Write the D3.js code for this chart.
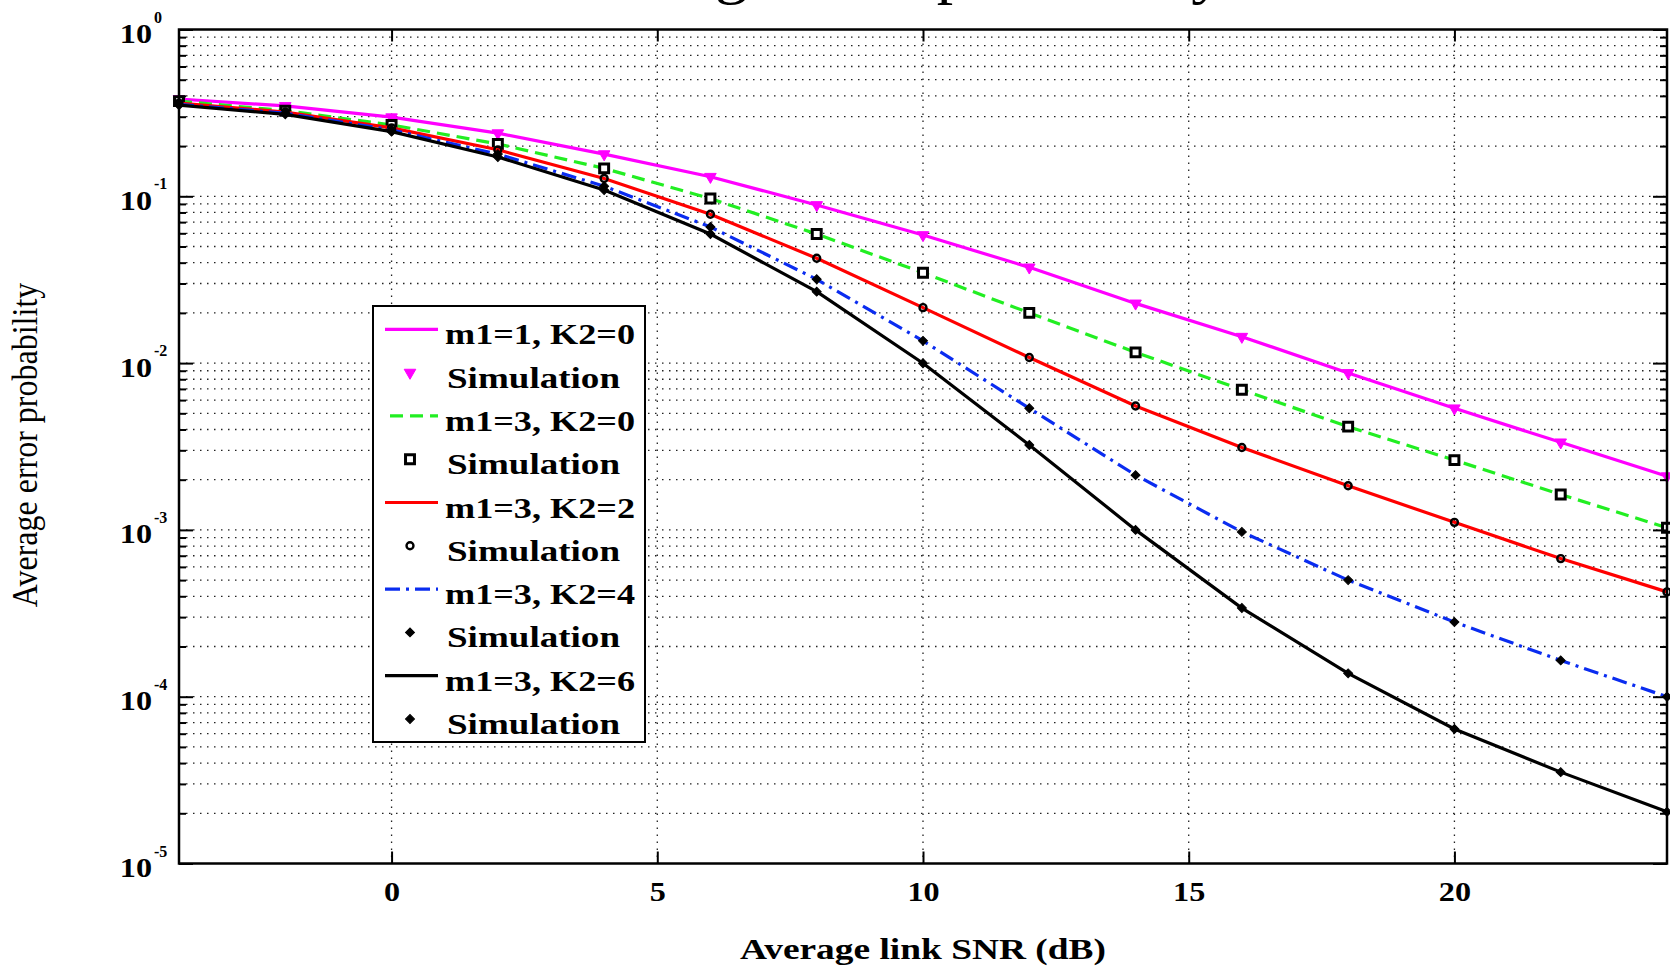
<!DOCTYPE html>
<html>
<head>
<meta charset="utf-8">
<script src="https://d3js.org/d3.v7.min.js"></script>
<style>
  body { margin: 0; background: #fff; }
  svg { display: block; }
</style>
</head>
<body>
<div id="chart"></div>
<script>
// SNR points (dB) shared by the analysis curves and the simulation markers
const snrDb = [-4, -2, 0, 2, 4, 6, 8, 10, 12, 14, 16, 18, 20, 22, 24];

// Average error probability
const peM1K0 = [0.383, 0.348, 0.298, 0.239, 0.179, 0.131, 0.0887, 0.0586, 0.0375, 0.0228, 0.0144, 0.00873, 0.00536, 0.00335, 0.0021];
const peM3K0 = [0.372, 0.326, 0.268, 0.206, 0.147, 0.0969, 0.0594, 0.0348, 0.0200, 0.0116, 0.00692, 0.00416, 0.00262, 0.00163, 0.00103];
const peM3K2 = [0.362, 0.320, 0.257, 0.190, 0.128, 0.078, 0.0425, 0.0215, 0.0108, 0.00553, 0.00312, 0.00184, 0.00111, 0.000673, 0.000425];
const peM3K4 = [0.356, 0.315, 0.250, 0.179, 0.115, 0.0655, 0.0318, 0.0136, 0.00536, 0.00213, 0.000973, 0.0005, 0.00028, 0.000165, 0.0001];
const peM3K6 = [0.352, 0.310, 0.244, 0.172, 0.109, 0.0594, 0.0268, 0.00998, 0.00323, 0.001, 0.00034, 0.000138, 0.000064, 0.0000353, 0.0000204];

const seriesNames = ['m1=1, K2=0', 'm1=3, K2=0', 'm1=3, K2=2', 'm1=3, K2=4', 'm1=3, K2=6'];
const xTickValues = [0, 5, 10, 15, 20];
const decadeTicks = [1e-5, 1e-4, 1e-3, 1e-2, 1e-1, 1];

const width = 1670, height = 966;
const margin = { top: 29.5, right: 3, bottom: 102.5, left: 179 };
const serif = '"Liberation Serif", "Times New Roman", Times, serif';

const series = [
  { name: seriesNames[0], values: peM1K0, color: '#ff00ff', dash: null, marker: 'triangle' },
  { name: seriesNames[1], values: peM3K0, color: '#22ee22', dash: '13,7', marker: 'square' },
  { name: seriesNames[2], values: peM3K2, color: '#ff0000', dash: null, marker: 'circle' },
  { name: seriesNames[3], values: peM3K4, color: '#0a2cf0', dash: '15,6,3,6', marker: 'diamond' },
  { name: seriesNames[4], values: peM3K6, color: '#000000', dash: null, marker: 'diamond' }
];

const svg = d3.select('#chart').append('svg')
  .attr('width', width)
  .attr('height', height)
  .style('background', '#fff');

const x = d3.scaleLinear().domain([-4, 24]).range([margin.left, width - margin.right]);
const y = d3.scaleLog().domain([1e-5, 1]).range([height - margin.bottom, margin.top]);

// minor log ticks 2..9 x 10^k
const minorY = [];
for (let k = -5; k < 0; k++) {
  for (let m = 2; m <= 9; m++) minorY.push(m * Math.pow(10, k));
}
const gridY = decadeTicks.concat(minorY).filter(v => v > 1e-5 && v < 1);

// grid (dotted)
const grid = svg.append('g')
  .attr('stroke', '#222')
  .attr('stroke-width', 1.3)
  .attr('stroke-dasharray', '1.5,5.5');

grid.selectAll('.gy')
  .data(gridY)
  .enter().append('line')
  .attr('x1', x.range()[0]).attr('x2', x.range()[1])
  .attr('y1', d => y(d)).attr('y2', d => y(d));

grid.selectAll('.gx')
  .data(xTickValues)
  .enter().append('line')
  .attr('x1', d => x(d)).attr('x2', d => x(d))
  .attr('y1', y.range()[1]).attr('y2', y.range()[0]);

// markers
function markerPath(type) {
  switch (type) {
    case 'triangle': return d3.symbol(d3.symbolTriangle, 58)();
    case 'square': return d3.symbol(d3.symbolSquare, 80)();
    case 'circle': return d3.symbol(d3.symbolCircle, 38)();
    default: return d3.symbol(d3.symbolSquare, 40)();
  }
}

function drawMarker(sel, type, color) {
  const p = sel.append('path').attr('d', markerPath(type));
  if (type === 'triangle') {
    p.attr('transform', 'rotate(180)').attr('fill', color).attr('stroke', color).attr('stroke-width', 1);
  } else if (type === 'square') {
    p.attr('fill', '#fff').attr('stroke', '#000').attr('stroke-width', 3);
  } else if (type === 'circle') {
    p.attr('fill', 'none').attr('stroke', '#000').attr('stroke-width', 2.4);
  } else {
    p.attr('transform', 'rotate(45)').attr('fill', '#000').attr('stroke', '#000').attr('stroke-width', 1);
  }
}

const line = d3.line()
  .x(d => x(d[0]))
  .y(d => y(d[1]));

const plot = svg.append('g');

series.forEach(s => {
  const pts = snrDb.map((v, i) => [v, s.values[i]]);

  plot.append('path')
    .datum(pts)
    .attr('d', line)
    .attr('fill', 'none')
    .attr('stroke', s.color)
    .attr('stroke-width', 3.2)
    .attr('stroke-dasharray', s.dash);

  plot.selectAll(null)
    .data(pts)
    .enter().append('g')
    .attr('transform', d => `translate(${x(d[0])},${y(d[1])})`)
    .each(function () { drawMarker(d3.select(this), s.marker, s.color); });
});

// axes: ticks pointing inward on all four sides
function styleAxis(g) {
  g.select('.domain').remove();
  g.selectAll('.tick line').attr('stroke', '#000').attr('stroke-width', 2);
}

const xBottom = svg.append('g')
  .attr('transform', `translate(0,${y.range()[0]})`)
  .call(d3.axisBottom(x).tickValues(xTickValues).tickSizeInner(-12).tickSizeOuter(0).tickPadding(18))
  .call(styleAxis);

xBottom.selectAll('.tick text')
  .attr('font-family', serif)
  .attr('font-weight', 'bold')
  .attr('font-size', 28)
  .attr('fill', '#000')
  .attr('transform', 'scale(1.15,1)');

svg.append('g')
  .attr('transform', `translate(0,${y.range()[1]})`)
  .call(d3.axisTop(x).tickValues(xTickValues).tickSizeInner(-12).tickSizeOuter(0).tickFormat(''))
  .call(styleAxis);

svg.append('g')
  .attr('transform', `translate(${x.range()[0]},0)`)
  .call(d3.axisLeft(y).tickValues(decadeTicks).tickSizeInner(-14).tickSizeOuter(0).tickFormat(''))
  .call(styleAxis);

svg.append('g')
  .attr('transform', `translate(${x.range()[0]},0)`)
  .call(d3.axisLeft(y).tickValues(minorY).tickSizeInner(-7).tickSizeOuter(0).tickFormat(''))
  .call(styleAxis);

svg.append('g')
  .attr('transform', `translate(${x.range()[1]},0)`)
  .call(d3.axisRight(y).tickValues(decadeTicks).tickSizeInner(-14).tickSizeOuter(0).tickFormat(''))
  .call(styleAxis);

svg.append('g')
  .attr('transform', `translate(${x.range()[1]},0)`)
  .call(d3.axisRight(y).tickValues(minorY).tickSizeInner(-7).tickSizeOuter(0).tickFormat(''))
  .call(styleAxis);

// y tick labels: 10 with superscript exponent
const yLabels = svg.append('g')
  .attr('font-family', serif)
  .attr('font-weight', 'bold')
  .attr('fill', '#000');

decadeTicks.forEach(v => {
  const ty = y(v);
  yLabels.append('text')
    .attr('transform', `translate(${x.range()[0] - 27},${ty + 13.5}) scale(1.15,1)`)
    .attr('text-anchor', 'end')
    .attr('font-size', 28)
    .text('10');
  yLabels.append('text')
    .attr('x', x.range()[0] - 25)
    .attr('y', ty - 7)
    .attr('font-size', 16)
    .text(String(Math.round(Math.log10(v))));
});

// frame
svg.append('rect')
  .attr('x', x.range()[0])
  .attr('y', y.range()[1])
  .attr('width', x.range()[1] - x.range()[0])
  .attr('height', y.range()[0] - y.range()[1])
  .attr('fill', 'none')
  .attr('stroke', '#000')
  .attr('stroke-width', 2.5);

// axis titles
svg.append('text')
  .attr('x', 923)
  .attr('y', 959)
  .attr('text-anchor', 'middle')
  .attr('font-family', serif)
  .attr('font-weight', 'bold')
  .attr('font-size', 30)
  .attr('textLength', 366)
  .attr('lengthAdjust', 'spacingAndGlyphs')
  .text('Average link SNR (dB)');

svg.append('text')
  .attr('transform', 'translate(37,445) scale(1.12,1) rotate(-90)')
  .attr('text-anchor', 'middle')
  .attr('font-family', serif)
  .attr('font-size', 32)
  .text('Average error probability');

// title, mostly cut off at the top edge as in the source figure
svg.append('text')
  .attr('x', 560)
  .attr('y', -8)
  .attr('font-family', serif)
  .attr('font-size', 60)
  .attr('textLength', 664)
  .attr('lengthAdjust', 'spacingAndGlyphs')
  .text('Average error probability');

// legend
const legend = svg.append('g');
legend.append('rect')
  .attr('x', 373).attr('y', 306)
  .attr('width', 272).attr('height', 436)
  .attr('fill', '#fff')
  .attr('stroke', '#000')
  .attr('stroke-width', 2);

const rowStep = 43.3;
series.forEach((s, i) => {
  const cy1 = 333.3 + (2 * i) * rowStep;
  const cy2 = cy1 + rowStep;

  legend.append('line')
    .attr('x1', 385).attr('x2', 438)
    .attr('y1', cy1 - 4).attr('y2', cy1 - 4)
    .attr('stroke', s.color)
    .attr('stroke-width', 3.2)
    .attr('stroke-dasharray', s.dash)
    .attr('stroke-dashoffset', s.marker === 'square' ? -5 : 0);

  legend.append('text')
    .attr('x', 445).attr('y', cy1 + 11)
    .attr('font-family', serif)
    .attr('font-weight', 'bold')
    .attr('font-size', 29)
    .attr('textLength', 190)
    .attr('lengthAdjust', 'spacingAndGlyphs')
    .text(s.name);

  const mg = legend.append('g').attr('transform', `translate(410,${cy2 - 4})`);
  drawMarker(mg, s.marker, s.color);

  legend.append('text')
    .attr('x', 447).attr('y', cy2 + 11)
    .attr('font-family', serif)
    .attr('font-weight', 'bold')
    .attr('font-size', 29)
    .attr('textLength', 173)
    .attr('lengthAdjust', 'spacingAndGlyphs')
    .text('Simulation');
});
</script>
</body>
</html>
